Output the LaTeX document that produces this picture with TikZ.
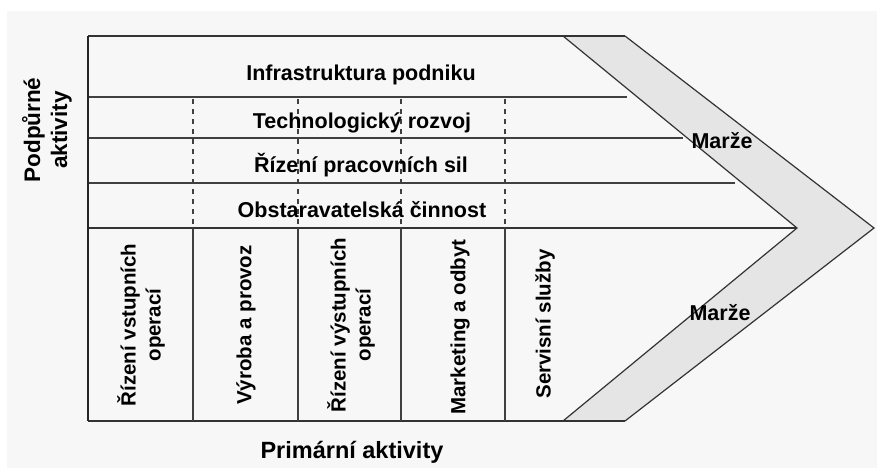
\documentclass[tikz,border=0pt]{standalone}
\usepackage{fontspec}
\setmainfont{Liberation Sans}
\usetikzlibrary{positioning}
\tikzset{
	frameline/.style={line width=1.6pt,draw=black!80},
	leftline/.style={line width=2.8pt,draw=black!85},
	sepline/.style={line width=1.4pt,draw=black!75},
	dashline/.style={line width=1.1pt,draw=black!75,dash pattern=on 5pt off 5pt},
	band/.style={fill=black!10},
	bandline/.style={line width=1.2pt,draw=black!80},
	lbl/.style={font=\bfseries\fontsize{21.5}{25}\selectfont,inner sep=0pt},
	collbl/.style={lbl,rotate=90,align=center},
	bgfill/.style={fill=black!3}
}

\begin{document}
\begin{tikzpicture}[x=1pt,y=-1pt]
		
		% -------------------------------------------------
		% 1. Canvas
		% -------------------------------------------------
		\useasboundingbox (0,0) rectangle (877,474);
		\fill[white] (0,0) rectangle (877,474);
		\fill[bgfill] (7,11) rectangle (877,468);
		
		% -------------------------------------------------
		% 2. Corner points of frame and margin band
		% -------------------------------------------------
		\coordinate (TL) at (88,36);
		\coordinate (BL) at (88,421);
		\coordinate (TI) at (563,36);
		\coordinate (TO) at (625,36);
		\coordinate (tipI) at (797,228);
		\coordinate (tipO) at (874,228);
		\coordinate (BI) at (563,421);
		\coordinate (BO) at (625,421);
		
		% margin band
		\path[band] (TI) -- (TO) -- (tipO) -- (BO) -- (BI) -- (tipI) -- cycle;
		\draw[bandline] (TO) -- (tipO) -- (BO);
		\draw[bandline] (TI) -- (tipI) -- (BI);
		
		% -------------------------------------------------
		% 3. Frame and support rows
		% -------------------------------------------------
		\draw[frameline] (TL) -- (TO);
		\draw[frameline] (BL) -- (BO);
		\draw[sepline] (88,97) -- (627,97);
		\draw[sepline] (88,138) -- (683,138);
		\draw[sepline] (88,183) -- (735,183);
		\draw[frameline] (88,228) -- (tipI);
		\draw[leftline] (TL) -- (BL);
		
		% -------------------------------------------------
		% 4. Column dividers
		% -------------------------------------------------
		\draw[dashline,line width=2.2pt] (193,99) -- (193,226);
		\foreach \cx in {298,401,505}
		\draw[dashline] (\cx,99) -- (\cx,226);
		\foreach \cx in {193,298,401,505}
		\draw[sepline] (\cx,228) -- (\cx,421);
		
		% -------------------------------------------------
		% 5. Labels
		% -------------------------------------------------
		\node[lbl,anchor=base] (infra) at (361,80) {Infrastruktura podniku};
		\node[lbl,anchor=base] (tech) at (362,128) {Technologický rozvoj};
		\node[lbl,anchor=base] (hr) at (361,172) {Řízení pracovních sil};
		\node[lbl,anchor=base] (proc) at (362,217) {Obstaravatelská činnost};
		
		\node[lbl,anchor=base] (marzeU) at (722,148) {Marže};
		\node[lbl,anchor=base] (marzeL) at (720,320) {Marže};
		
		\node[collbl,font=\bfseries\fontsize{22.5}{27}\selectfont] (support) at (47,130) {Podpůrné\\aktivity};
		
		\node[collbl,font=\bfseries\fontsize{20.5}{25}\selectfont] (inlog) at (141,325) {Řízení vstupních\\operací};
		\node[collbl,font=\bfseries\fontsize{20.5}{25}\selectfont] (oper) at (246,325) {Výroba a provoz};
		\node[collbl,font=\bfseries\fontsize{20.5}{25}\selectfont] (outlog) at (351,325) {Řízení výstupních\\operací};
		\node[collbl,font=\bfseries\fontsize{20.5}{25}\selectfont] (mkt) at (460,327) {Marketing a odbyt};
		\node[collbl,font=\bfseries\fontsize{20.5}{25}\selectfont] (serv) at (545,324) {Servisní služby};
		
		\node[lbl,anchor=base,font=\bfseries\fontsize{23.5}{27}\selectfont] (primary) at (352,458) {Primární aktivity};
		
	\end{tikzpicture}
\end{document}
